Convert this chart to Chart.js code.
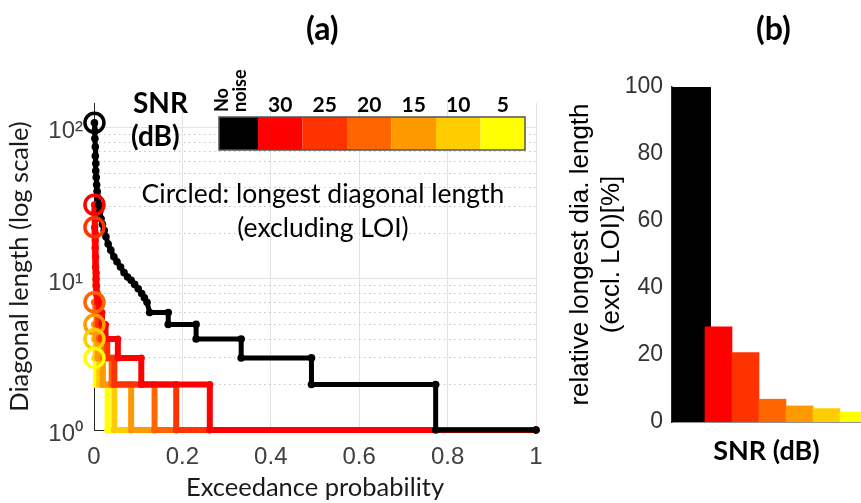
<!DOCTYPE html>
<html>
<head>
<meta charset="utf-8">
<script src="https://cdn.jsdelivr.net/npm/chart.js@4.4.0/dist/chart.umd.min.js"></script>
<style>
  html, body { margin: 0; padding: 0; background: #fff; overflow: hidden; }
  #wrap { position: relative; width: 861px; height: 503px; }
  #diagChart { position: absolute; left: 0; top: 0; }
  #barChart { position: absolute; left: 560px; top: 0; }
  .panel { position: absolute; top: 8px; font: bold 32px Lato, sans-serif; color: #000; }
</style>
</head>
<body>
<div id="wrap">
  <canvas id="diagChart" width="560" height="503"></canvas>
  <canvas id="barChart" width="301" height="503"></canvas>
  <div class="panel" style="left:306px">(a)</div>
  <div class="panel" style="left:756px">(b)</div>
</div>
<script>
// SNR classes (first = no noise)
const snrLabels = ['No noise', '30', '25', '20', '15', '10', '5'];
const snrColors = ['#000000', '#ff0000', '#ff3300', '#ff6600', '#ff9900', '#ffcc00', '#ffff00'];

// Exceedance curves: x = exceedance probability, y = diagonal length
const noNoiseX = [0.001,0.002,0.002,0.003,0.003,0.004,0.004,0.005,0.006,0.007,
                  0.009,0.011,0.013,0.016,0.019,0.023,0.027,0.032,0.038,0.045,
                  0.052,0.060,0.068,0.076,0.084,0.092,0.100,0.108,0.114,0.120,
                  0.126,0.168,0.168,0.231,0.231,0.333,0.333,0.492,0.492,0.773,0.773,1];
const noNoiseY = [108,95,85,75,65,58,52,47,42,38,
                  34,31,28,25,23,21,19,17,15.5,14,
                  13,12,11,10.3,9.8,9.2,8.6,8,7.5,7,
                  6,6,5,5,4,4,3,3,2,2,1,1];

const snr30X = [0.001,0.002,0.002,0.002,0.003,0.003,0.003,0.004,0.004,0.005,
                0.005,0.006,0.007,0.009,0.012,0.012,0.018,0.018,0.026,0.026,
                0.054,0.054,0.107,0.107,0.262,0.262,1];
const snr30Y = [31,28,25,22,20,18,16,14,12,11,
                10,9,8,7,7,6,6,5,5,4,
                4,3,3,2,2,1,1];

const snr25X = [0.001,0.002,0.002,0.003,0.003,0.004,0.004,0.005,0.007,0.010,
                0.010,0.016,0.016,0.030,0.030,0.046,0.046,0.186,0.186,1];
const snr25Y = [22,19,16,14,12,10,9,8,7,6,
                5,5,4,4,3,3,2,2,1,1];

const snr20X = [0.001,0.003,0.003,0.006,0.006,0.012,0.012,0.022,0.022,0.040,0.040,0.137,0.137,1];
const snr20Y = [7,7,6,6,5,5,4,4,3,3,2,2,1,1];

const snr15X = [0.001,0.004,0.004,0.009,0.009,0.020,0.020,0.084,0.084,1];
const snr15Y = [5,5,4,4,3,3,2,2,1,1];

const snr10X = [0.001,0.004,0.004,0.012,0.012,0.046,0.046,1];
const snr10Y = [4,4,3,3,2,2,1,1];

const snr5X = [0.001,0.005,0.005,0.031,0.031,1];
const snr5Y = [3,3,2,2,1,1];

// Longest diagonal (circled), excluding LOI
const longestX = [0.001,0.001,0.001,0.001,0.001,0.001,0.001];
const longestY = [108,31,22,7,5,4,3];

// Log axis ticks
const yMajor = [1, 10, 100];
const yMinor = [2,3,4,5,6,7,8,9,20,30,40,50,60,70,80,90];
const yMajorText = { 1: '10⁰', 10: '10¹', 100: '10²' };

// Panel (b): relative longest diagonal length [%]
const barPos = [1, 2, 3, 4, 5, 6, 7];
const relLongest = [100, 28.4, 20.7, 6.8, 4.8, 4.0, 3.0];

const curvesX = [noNoiseX, snr30X, snr25X, snr20X, snr15X, snr10X, snr5X];
const curvesY = [noNoiseY, snr30Y, snr25Y, snr20Y, snr15Y, snr10Y, snr5Y];

const tickColor = '#404040';
const axisColor = '#262626';

// Colour key + note drawn over the plot
const snrKey = {
  id: 'snrKey',
  afterDraw(chart) {
    const ctx = chart.ctx;
    ctx.save();
    let x = 219;
    snrColors.forEach((c, i) => {
      const w = i === 0 ? 39 : 44.5;
      ctx.fillStyle = c;
      ctx.fillRect(x, 117, w, 33);
      ctx.fillStyle = '#000';
      if (i === 0) {
        const words = snrLabels[0].split(' ');
        ctx.save();
        ctx.font = 'bold 18px Lato';
        ctx.textAlign = 'left';
        ctx.textBaseline = 'middle';
        words.forEach((wd, k) => {
          ctx.save();
          ctx.translate(222 + k * 18, 112);
          ctx.rotate(-Math.PI / 2);
          ctx.fillText(wd, 0, 0);
          ctx.restore();
        });
        ctx.restore();
      } else {
        ctx.font = 'bold 21px Lato';
        ctx.textAlign = 'center';
        ctx.textBaseline = 'alphabetic';
        ctx.fillText(snrLabels[i], x + w / 2, 112);
      }
      x += w;
    });
    ctx.strokeStyle = '#555';
    ctx.lineWidth = 1.5;
    ctx.strokeRect(219, 117, x - 219, 33);

    ctx.fillStyle = '#000';
    ctx.textAlign = 'left';
    ctx.font = 'bold 28px Lato';
    ctx.fillText('SNR', 133, 113);
    ctx.fillText('(dB)', 131, 146);

    ctx.textAlign = 'center';
    ctx.font = '26.5px Lato';
    ctx.fillText('Circled: longest diagonal length', 323, 203);
    ctx.fillText('(excluding LOI)', 323, 237);
    ctx.restore();
  }
};

const curveSets = curvesX.map((xs, i) => ({
  label: snrLabels[i],
  data: xs.map((x, k) => ({ x: x, y: curvesY[i][k] })),
  showLine: true,
  borderColor: snrColors[i],
  backgroundColor: snrColors[i],
  borderWidth: i === 0 ? 5 : 6,
  pointRadius: i === 0 ? 3.8 : 3.5,
  pointBorderWidth: 0,
  borderCapStyle: 'round',
  borderJoinStyle: 'round',
  clip: false
}));

const circleSet = {
  label: 'longest',
  data: longestX.map((x, k) => ({ x: x, y: longestY[k] })),
  showLine: false,
  pointRadius: 9.5,
  pointBorderWidth: 3.5,
  pointBorderColor: snrColors,
  pointBackgroundColor: 'rgba(0,0,0,0)',
  clip: false
};

new Chart(document.getElementById('diagChart'), {
  type: 'scatter',
  data: { datasets: [circleSet].concat(curveSets) },
  options: {
    responsive: false,
    animation: false,
    layout: { padding: { top: 103, right: 24, left: 0, bottom: 0 } },
    plugins: { legend: { display: false }, tooltip: { enabled: false } },
    scales: {
      x: {
        type: 'linear', min: 0, max: 1,
        ticks: { stepSize: 0.2, color: tickColor, padding: 13, font: { family: 'Liberation Sans', size: 24 },
                 callback: v => String(Math.round(v * 10) / 10) },
        grid: { color: '#e2e2e2', drawTicks: false },
        border: { color: axisColor },
        afterFit: s => { s.height = 73; },
        title: { display: true, text: 'Exceedance probability', color: '#1a1a1a', padding: 0,
                 font: { family: 'Lato', size: 25.5 } }
      },
      y: {
        type: 'logarithmic', min: 1, max: 146,
        afterBuildTicks: s => { s.ticks = yMajor.map(v => ({ value: v })); },
        ticks: { color: tickColor, padding: 11, labelOffset: 4,
                 font: { family: 'Liberation Sans', size: 24 },
                 callback: v => yMajorText[v] || '' },
        grid: { color: '#e2e2e2', drawTicks: false },
        border: { color: axisColor },
        afterFit: s => { s.width = 94; },
        title: { display: true, text: 'Diagonal length (log scale)', color: '#1a1a1a',
                 padding: { top: 4, bottom: 0 }, font: { family: 'Lato', size: 25.5 } }
      },
      yMinor: {
        type: 'logarithmic', position: 'right', min: 1, max: 146,
        afterBuildTicks: s => { s.ticks = yMinor.map(v => ({ value: v })); },
        ticks: { display: false },
        grid: { color: '#c4c4c4', drawTicks: false },
        border: { display: false, dash: [1.5, 3.5] },
        afterFit: s => { s.width = 0; }
      }
    }
  },
  plugins: [snrKey]
});

new Chart(document.getElementById('barChart'), {
  type: 'bar',
  data: {
    datasets: [
      {
        data: barPos.slice(1).map((x, k) => ({ x: x, y: relLongest[k + 1] })),
        backgroundColor: snrColors.slice(1),
        barPercentage: 1, categoryPercentage: 1, grouped: false
      },
      {
        data: [{ x: barPos[0], y: relLongest[0] }],
        backgroundColor: snrColors[0],
        barPercentage: 1.444, categoryPercentage: 1, grouped: false
      }
    ]
  },
  options: {
    responsive: false,
    animation: false,
    layout: { padding: { top: 87, right: 0, left: 0, bottom: 0 } },
    plugins: { legend: { display: false }, tooltip: { enabled: false } },
    scales: {
      x: {
        type: 'linear', min: 0.278, max: 7.278, offset: false,
        afterBuildTicks: s => { s.ticks = barPos.map(v => ({ value: v })); },
        ticks: { display: false },
        grid: { display: false, drawTicks: false, offset: false },
        border: { color: axisColor, width: 1.5 },
        afterFit: s => { s.height = 81; },
        title: { display: true, text: 'SNR (dB)', color: '#000', padding: { top: 0, bottom: 36 },
                 font: { family: 'Lato', size: 27, weight: 'bold' } }
      },
      y: {
        min: 0, max: 100,
        ticks: { stepSize: 20, color: '#333', padding: 9, font: { family: 'Liberation Sans', size: 23 } },
        grid: { display: false, drawTicks: false },
        border: { color: axisColor, width: 1.5 },
        afterFit: s => { s.width = 112; },
        title: { display: true, text: ['relative longest dia. length', '(excl. LOI)[%]'], color: '#000',
                 padding: { top: 5, bottom: 0 }, font: { family: 'Liberation Sans', size: 26 } }
      }
    }
  }
});
</script>
</body>
</html>
